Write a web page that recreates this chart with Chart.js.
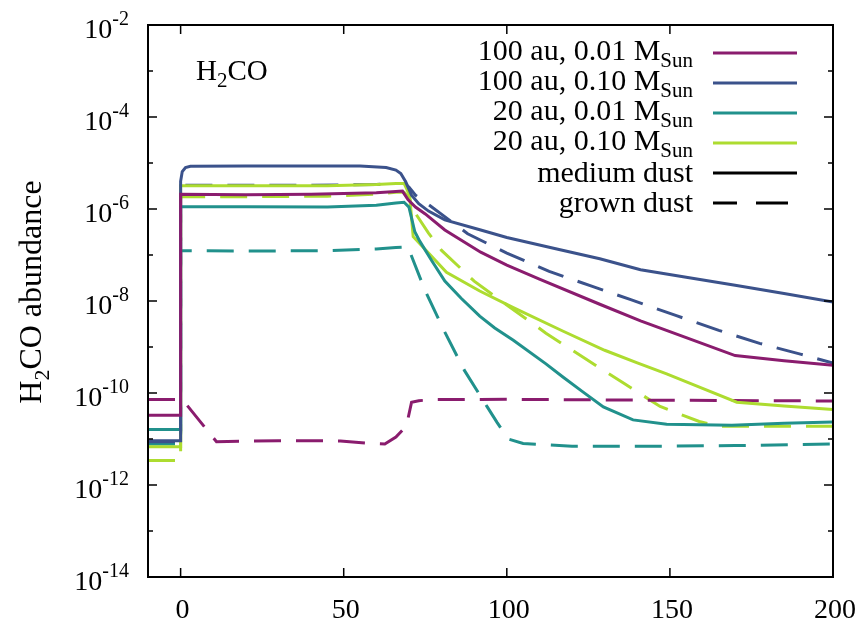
<!DOCTYPE html>
<html>
<head>
<meta charset="utf-8">
<script src="https://cdn.jsdelivr.net/npm/chart.js@4"></script>
<style>
  body { margin: 0; background: #fff; }
  #wrap { width: 862px; height: 620px; }
</style>
</head>
<body>
<div id="wrap"><canvas id="chart" width="862" height="620"></canvas></div>
<script>
// time axis and H2CO abundance
const purpleMedX = [-10, 0, 0, 20, 40, 60, 66, 68, 69.7, 72, 75, 81, 92, 100, 110, 128.5, 141, 155, 170, 185, 200];
const purpleMedY = [3.3e-11, 3.3e-11, 2.1e-6, 2.05e-6, 2.1e-6, 2.25e-6, 2.4e-6, 2.45e-6, 1.6e-6, 1.1e-6, 7.8e-7, 3.5e-7, 1.15e-7, 6e-8, 3e-8, 8.5e-9, 3.7e-9, 1.6e-9, 6.5e-10, 5e-10, 4e-10];

const blueMedX = [-10, 0, 0, 0.5, 1.5, 3, 20, 40, 55, 63, 66, 67.5, 69, 70.8, 73, 76, 81, 92, 100, 115, 128.5, 141, 155, 170, 185, 200];
const blueMedY = [9.2e-12, 9.2e-12, 4e-6, 6.5e-6, 8e-6, 8.5e-6, 8.6e-6, 8.6e-6, 8.6e-6, 8e-6, 7e-6, 5.9e-6, 3.9e-6, 2e-6, 1.3e-6, 9e-7, 5.8e-7, 3.5e-7, 2.4e-7, 1.37e-7, 8.3e-8, 4.8e-8, 3.3e-8, 2.2e-8, 1.45e-8, 9.5e-9];

const tealMedX = [-10, 0, 0, 20, 45, 60, 66, 68.5, 70, 71.8, 73.3, 77, 81, 86, 91.7, 96.3, 102, 112, 117.3, 123, 129.6, 138.7, 149, 169, 185, 200];
const tealMedY = [1.6e-11, 1.6e-11, 1.12e-6, 1.12e-6, 1.1e-6, 1.2e-6, 1.35e-6, 1.4e-6, 1.1e-6, 3.2e-7, 2e-7, 7.5e-8, 2.7e-8, 1.15e-8, 4.7e-9, 2.6e-9, 1.4e-9, 4.3e-10, 2.2e-10, 1.1e-10, 5e-11, 2.6e-11, 2.1e-11, 2e-11, 2.2e-11, 2.35e-11];

const greenMedX = [-10, 0, 0, 20, 45, 60, 66, 68.5, 70.2, 71.3, 76, 81.5, 91.7, 102, 117.3, 130, 140, 149, 160, 170.5, 185, 200];
const greenMedY = [6.8e-12, 6.8e-12, 3.2e-6, 3.2e-6, 3.2e-6, 3.4e-6, 3.6e-6, 3.6e-6, 2e-6, 2.5e-7, 1.1e-7, 4.2e-8, 1.65e-8, 7.2e-9, 2.2e-9, 8.5e-10, 4.5e-10, 2.6e-10, 1.26e-10, 6.3e-11, 5.2e-11, 4.4e-11];

const purpleGrX = [-10, 0, 0.7, 11, 20, 30, 40, 49, 57, 62.6, 66, 69.2, 70.8, 73, 77.3, 100, 140, 200];
const purpleGrY = [7.2e-11, 7.2e-11, 7e-11, 8.7e-12, 9e-12, 9.2e-12, 9.2e-12, 9e-12, 8.1e-12, 7.8e-12, 1.1e-11, 1.9e-11, 6.3e-11, 6.8e-11, 7.2e-11, 7.3e-11, 7e-11, 6.7e-11];

const blueGrX = [-10, 0, 0, 20, 40, 60, 66, 68.5, 70, 72, 76, 88, 100, 113, 126, 138, 152, 165, 177.5, 190, 200];
const blueGrY = [8.7e-12, 8.7e-12, 3.3e-6, 3.3e-6, 3.3e-6, 3.4e-6, 3.6e-6, 3.6e-6, 3e-6, 2e-6, 1.25e-6, 2.9e-7, 1.1e-7, 4.4e-8, 2.1e-8, 1.07e-8, 4.8e-9, 2.3e-9, 1.2e-9, 7e-10, 4.5e-10];

const tealGrX = [-10, 0, 0, 20, 45, 60, 66, 69.7, 71.8, 75, 81, 87, 94, 97, 100.4, 105, 120, 150, 170, 200];
const tealGrY = [7.8e-12, 7.8e-12, 1.24e-7, 1.22e-7, 1.24e-7, 1.35e-7, 1.45e-7, 1.5e-7, 6.2e-8, 1.65e-8, 2.1e-9, 3.1e-10, 5e-11, 2.3e-11, 1e-11, 8e-12, 7e-12, 7e-12, 7.2e-12, 7.8e-12];

const greenGrX = [-10, 0, 0, 20, 45, 60, 66, 68.5, 70, 72, 76, 80, 90, 100, 112, 124, 136, 147, 159, 165, 200];
const greenGrY = [3.4e-12, 3.4e-12, 1.85e-6, 1.85e-6, 1.9e-6, 2.1e-6, 2.3e-6, 2.3e-6, 1.8e-6, 8e-7, 3e-7, 1.26e-7, 2.7e-8, 8.2e-9, 2e-9, 5.6e-10, 1.6e-10, 5.1e-11, 2.4e-11, 1.9e-11, 1.9e-11];

const xTicks = [0, 50, 100, 150, 200];
const yLabelExps = [-2, -4, -6, -8, -10, -12, -14];
const modelNames = ['100 au, 0.01 M', '100 au, 0.10 M', '20 au, 0.01 M', '20 au, 0.10 M'];

const PURPLE = '#8a1c6e', BLUE = '#3b528b', TEAL = '#21918c', GREEN = '#addc30';
const DASH = [27, 15];
const SERIF = '"Liberation Serif", "DejaVu Serif", serif';

function pts(xs, ys) {
  return xs.map((x, i) => ({ x: x, y: ys[i] }));
}
function line(xs, ys, color, dashed) {
  return {
    data: pts(xs, ys),
    borderColor: color,
    borderWidth: 3,
    borderDash: dashed ? DASH : [],
    pointRadius: 0,
    tension: 0,
    fill: false
  };
}

// draw text pieces (normal / sub / sup) in a row
function richWidth(ctx, parts) {
  let w = 0;
  parts.forEach(p => { ctx.font = p.size + 'px ' + SERIF; w += ctx.measureText(p.t).width; });
  return w;
}
function drawRich(ctx, parts, x, y, align) {
  let cx = x;
  if (align === 'right') cx = x - richWidth(ctx, parts);
  if (align === 'center') cx = x - richWidth(ctx, parts) / 2;
  ctx.textAlign = 'left';
  ctx.textBaseline = 'alphabetic';
  parts.forEach(p => {
    ctx.font = p.size + 'px ' + SERIF;
    ctx.fillText(p.t, cx, y + (p.dy || 0));
    cx += ctx.measureText(p.t).width;
  });
}

const decorations = {
  id: 'decorations',
  afterDatasetsDraw(chart) {
    const ctx = chart.ctx;
    const a = chart.chartArea;
    const xs = chart.scales.x, ys = chart.scales.y;
    ctx.save();
    ctx.fillStyle = '#000';
    ctx.strokeStyle = '#000';

    // ticks, mirrored on both sides
    ctx.lineWidth = 1.5;
    ctx.beginPath();
    xTicks.forEach(v => {
      const px = xs.getPixelForValue(v);
      ctx.moveTo(px, a.bottom); ctx.lineTo(px, a.bottom - 9);
      ctx.moveTo(px, a.top); ctx.lineTo(px, a.top + 9);
    });
    for (let e = -14; e <= -2; e++) {
      const py = ys.getPixelForValue(Math.pow(10, e));
      const len = (e % 2 === 0) ? 9 : 5;
      ctx.moveTo(a.left, py); ctx.lineTo(a.left + len, py);
      ctx.moveTo(a.right, py); ctx.lineTo(a.right - len, py);
    }
    ctx.stroke();

    // frame
    ctx.lineWidth = 2;
    ctx.strokeRect(a.left, a.top, a.right - a.left, a.bottom - a.top);

    // x tick labels
    ctx.font = '28px ' + SERIF;
    ctx.textAlign = 'center';
    ctx.textBaseline = 'alphabetic';
    xTicks.forEach(v => {
      ctx.fillText(String(v), xs.getPixelForValue(v) + 2, 618);
    });

    // y tick labels 10^n
    yLabelExps.forEach(e => {
      const py = ys.getPixelForValue(Math.pow(10, e));
      drawRich(ctx, [
        { t: '10', size: 28 },
        { t: '-' + Math.abs(e), size: 20, dy: -13 }
      ], 129, py + 13, 'right');
    });

    // y axis title
    ctx.save();
    ctx.translate(41, 292);
    ctx.rotate(-Math.PI / 2);
    drawRich(ctx, [
      { t: 'H', size: 32 },
      { t: '2', size: 22, dy: 8 },
      { t: 'CO abundance', size: 32 }
    ], 0, 0, 'center');
    ctx.restore();

    // species label
    drawRich(ctx, [
      { t: 'H', size: 29 },
      { t: '2', size: 21, dy: 7 },
      { t: 'CO', size: 29 }
    ], 196, 80, 'left');

    // legend
    const colors = [PURPLE, BLUE, TEAL, GREEN];
    const rowY = [53, 83, 113, 143, 173, 203];
    ctx.lineWidth = 3;
    modelNames.forEach((name, i) => {
      ctx.fillStyle = '#000';
      drawRich(ctx, [
        { t: name, size: 30 },
        { t: 'Sun', size: 21, dy: 7 }
      ], 693, rowY[i] + 7, 'right');
      ctx.strokeStyle = colors[i];
      ctx.setLineDash([]);
      ctx.beginPath(); ctx.moveTo(713, rowY[i]); ctx.lineTo(797, rowY[i]); ctx.stroke();
    });
    ctx.fillStyle = '#000';
    ctx.strokeStyle = '#000';
    drawRich(ctx, [{ t: 'medium dust', size: 30 }], 693, rowY[4] + 9, 'right');
    ctx.setLineDash([]);
    ctx.beginPath(); ctx.moveTo(713, rowY[4]); ctx.lineTo(797, rowY[4]); ctx.stroke();
    drawRich(ctx, [{ t: 'grown dust', size: 30 }], 693, rowY[5] + 9, 'right');
    ctx.setLineDash([24, 19, 32, 100]);
    ctx.beginPath(); ctx.moveTo(713, rowY[5]); ctx.lineTo(797, rowY[5]); ctx.stroke();
    ctx.restore();
  }
};

new Chart(document.getElementById('chart'), {
  type: 'line',
  data: {
    datasets: [
      line(purpleMedX, purpleMedY, PURPLE, false),
      line(blueMedX, blueMedY, BLUE, false),
      line(tealMedX, tealMedY, TEAL, false),
      line(greenMedX, greenMedY, GREEN, false),
      line(purpleGrX, purpleGrY, PURPLE, true),
      line(blueGrX, blueGrY, BLUE, true),
      line(tealGrX, tealGrY, TEAL, true),
      line(greenGrX, greenGrY, GREEN, true)
    ]
  },
  options: {
    responsive: false,
    animation: false,
    layout: { padding: { left: 148, top: 25, right: 29, bottom: 43 } },
    plugins: { legend: { display: false }, tooltip: { enabled: false } },
    scales: {
      x: { type: 'linear', display: false, min: -10, max: 200 },
      y: { type: 'logarithmic', display: false, min: 1e-14, max: 1e-2 }
    }
  },
  plugins: [decorations]
});
</script>
</body>
</html>
